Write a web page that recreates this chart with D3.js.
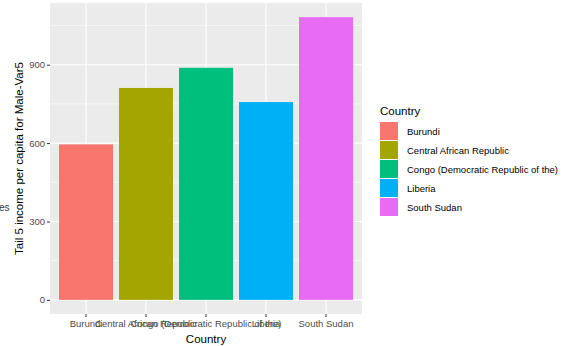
<!DOCTYPE html>
<html><head><meta charset="utf-8">
<script src="https://cdn.jsdelivr.net/npm/d3@7"></script>
<style>body{margin:0;background:#fff;} text{font-family:"Liberation Sans",Arial,sans-serif;}</style>
</head><body>
<svg id="c" width="569" height="346"></svg>
<script>
const categories = ["Burundi","Central African Republic","Congo (Democratic Republic of the)","Liberia","South Sudan"];
const values = [595, 811, 888, 757, 1082];
const colors = ["#F8766D","#A3A500","#00BF7D","#00B0F6","#E76BF3"];
const yTicks = [0,300,600,900];
const yMinor = [150,450,750,1050];

const svg = d3.select("#c");
const L=50, R=362, T=3, B=314;
const x = d3.scaleBand().domain(categories).range([L,R]).paddingInner(0.1).paddingOuter(0.15);
const yMax = d3.max(values);
const y = d3.scaleLinear().domain([-0.05*yMax, yMax*1.05]).range([B,T]);

svg.append("rect").attr("x",L).attr("y",T).attr("width",R-L).attr("height",B-T).attr("fill","#EBEBEB");
svg.selectAll(".gmin").data(yMinor).enter().append("line")
  .attr("x1",L).attr("x2",R).attr("y1",d=>y(d)).attr("y2",d=>y(d)).attr("stroke","#fff").attr("stroke-width",0.55);
svg.selectAll(".gmaj").data(yTicks).enter().append("line")
  .attr("x1",L).attr("x2",R).attr("y1",d=>y(d)).attr("y2",d=>y(d)).attr("stroke","#fff").attr("stroke-width",1.1);
svg.selectAll(".gv").data(categories).enter().append("line")
  .attr("x1",d=>x(d)+x.bandwidth()/2).attr("x2",d=>x(d)+x.bandwidth()/2).attr("y1",T).attr("y2",B).attr("stroke","#fff").attr("stroke-width",1.1);

svg.selectAll(".bar").data(categories).enter().append("rect")
  .attr("x",d=>x(d)).attr("width",x.bandwidth())
  .attr("y",(d,i)=>y(values[i])).attr("height",(d,i)=>y(0)-y(values[i]))
  .attr("fill",(d,i)=>colors[i]);

// y axis
const ya = svg.append("g").attr("transform",`translate(${L},0)`)
  .call(d3.axisLeft(y).tickValues(yTicks).tickSize(3).tickPadding(2));
ya.select(".domain").remove();
ya.selectAll("line").attr("stroke","#333");
ya.selectAll("text").attr("fill","#4D4D4D").style("font-size","9.5px").style("font-family","Liberation Sans, Arial, sans-serif");

// x axis
const xa = svg.append("g").attr("transform",`translate(0,${B})`)
  .call(d3.axisBottom(x).tickSize(3).tickPadding(3));
xa.select(".domain").remove();
xa.selectAll("line").attr("stroke","#333");
xa.selectAll("text").attr("fill","#4D4D4D").style("font-size","9.5px").style("font-family","Liberation Sans, Arial, sans-serif");

svg.append("text").attr("x",(L+R)/2).attr("y",343).attr("text-anchor","middle")
  .style("font-size","11.5px").attr("fill","#000").text("Country");
svg.append("text").attr("transform",`translate(23,${(T+B)/2}) rotate(-90)`).attr("text-anchor","middle")
  .style("font-size","11.5px").attr("fill","#000").text("Tail 5 income per capita for Male-Var5");

// artifacts on left
svg.append("text").attr("x",-1).attr("y",211).style("font-size","10px").attr("fill","#333").text("es");

// legend
const lg = svg.append("g");
lg.append("text").attr("x",380).attr("y",115).style("font-size","11.5px").attr("fill","#000").text("Country");
const ki = lg.selectAll(".k").data(categories).enter().append("g");
ki.append("rect").attr("x",380).attr("y",(d,i)=>122+i*19).attr("width",18).attr("height",18).attr("fill",(d,i)=>colors[i]);
ki.append("text").attr("x",407).attr("y",(d,i)=>122+i*19+12.5).style("font-size","9.5px").attr("fill","#000").text(d=>d);
</script>
</body></html>
